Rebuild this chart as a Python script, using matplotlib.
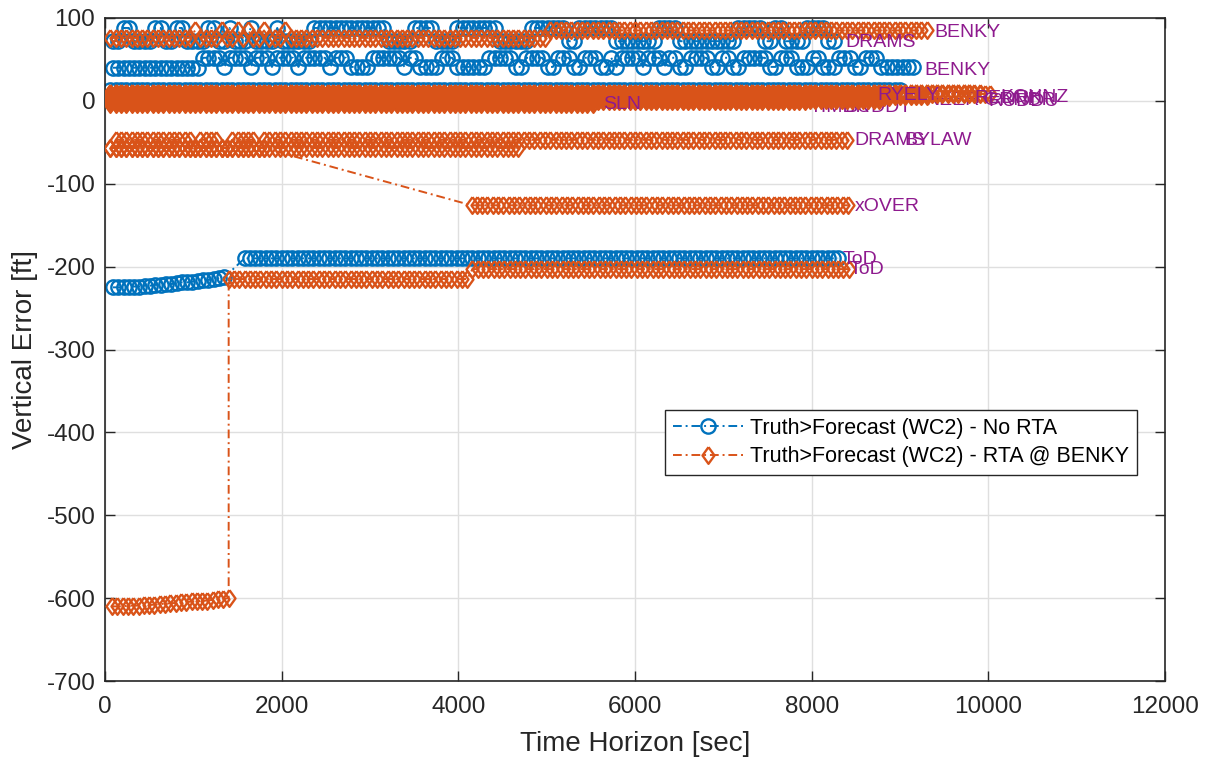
# -*- coding: utf-8 -*-
"""
Vertical error vs. time horizon, truth > forecast (WC2), with and without RTA.
"""

import numpy as np
import matplotlib.pyplot as plt

plt.rcParams['font.family'] = ['Liberation Sans', 'DejaVu Sans']
plt.rcParams['axes.unicode_minus'] = False

DT = 60  # time-horizon sample spacing [sec]

# ---------------- data ----------------
# a series is a list of pieces (start time, data)
# data is either runs [(end time, level), ...] or explicit values, one per DT

# No RTA (blue)
blue_top_runs = [(180, 72), (300, 88), (540, 72), (660, 88), (800, 72), (900, 88),
                 (1140, 72), (1240, 88), (1350, 72), (1440, 88), (1600, 72), (1700, 88),
                 (1900, 72), (2000, 88), (2320, 72), (3200, 88), (3450, 72), (3720, 88),
                 (3980, 72), (4420, 88), (4780, 72), (5200, 88), (5340, 72), (5740, 88),
                 (6220, 72), (6500, 88), (7120, 72), (7440, 88), (7540, 72), (7700, 88),
                 (7920, 72), (8140, 88), (8300, 72)]
blue_mid_runs = [(1100, 40), (1300, 52), (1380, 41), (1600, 52), (1680, 41), (1860, 52),
                 (1920, 41), (2130, 52), (2240, 41), (2500, 52), (2580, 41), (2740, 52),
                 (3020, 41), (3340, 52), (3420, 41), (3560, 52), (3790, 41), (3940, 52),
                 (4320, 41), (4620, 52), (4720, 41), (5000, 52), (5120, 41), (5250, 52),
                 (5400, 41), (5550, 52), (5700, 41), (5750, 52), (5830, 41), (6050, 52),
                 (6140, 41), (6280, 52), (6330, 41), (6500, 52), (6600, 41), (6850, 52),
                 (6950, 41), (7050, 52), (7180, 41), (7500, 52), (7620, 41), (7800, 52),
                 (7950, 41), (8100, 52), (8300, 41), (8450, 52), (8600, 41), (8780, 52),
                 (9200, 41)]
blue_band_runs = [(9000, 13)]
blue_tod_ramp = [-225, -225, -225, -224, -224, -224, -223, -223, -222, -222, -221,
                 -221, -220, -219, -219, -218, -217, -216, -216, -215, -214, -213]
blue_tod_runs = [(8300, -190)]

# RTA @ BENKY (orange)
orange_top_runs = [(1000, 76), (1040, 85), (1300, 76), (1340, 85), (1460, 76), (1500, 85),
                   (1600, 76), (1640, 85), (1760, 76), (1800, 85), (2020, 76), (2060, 85),
                   (5000, 76), (9350, 85)]
band_levels = [-3, 2, -4, 0, 3, 10, 7, 5, 9, 8, 1, 6]
band_ends = [2940, 6500, 5570, 7920, 8310, 9950, 8680, 8900, 9780, 10060, 8800, 9300]
orange_m57_runs = [(4700, -57)]
orange_m47_runs = [(1000, -47), (1060, -57), (1300, -47), (1400, -57), (1700, -47),
                   (1760, -57), (8420, -47)]
orange_xover_a = [(1800, -57)]
orange_xover_b = [(8420, -126)]
orange_tod_ramp = [-610, -610, -610, -609, -609, -609, -608, -608, -608, -607, -607, -606,
                   -606, -605, -605, -604, -604, -603, -603, -602, -601, -601, -600]
orange_tod_runs_a = [(4100, -215)]
orange_tod_runs_b = [(8440, -203)]

# waypoint labels: text, x, y, drawn below the markers?
label_text = ['DRAMS', 'BENKY', 'BENKY', 'ICT', 'SLN', 'TIMBR', 'BUDDT', 'RYELY', 'NEER',
              'REDRK', 'GRNDR', 'RUDDU', 'KOHNZ', 'DRAMS', 'BYLAW', 'xOVER', 'ToD', 'ToD']
label_x = [8380, 9390, 9280, 3000, 5640, 7980, 8370, 8740, 9290,
           9840, 9950, 10000, 10140, 8485, 9050, 8485, 8350, 8430]
label_y = [71, 83, 37, -4, -4, -8, -8, 7, 1,
           3, 1, -1, 4, -48, -48, -128, -191, -204]
label_hidden = [False, False, False, True, False, True, True, False, True,
                False, False, False, False, False, False, False, False, False]

no_rta = [[(90, blue_top_runs)],
          [(90, blue_mid_runs)],
          [(60, blue_band_runs)],
          [(90, blue_tod_ramp), (1580, blue_tod_runs)]]
rta = [[(60, orange_top_runs)]]
rta += [[(60, [(e, lv)])] for lv, e in zip(band_levels, band_ends)]
rta += [[(60, orange_m57_runs)],
        [(120, orange_m47_runs)],
        [(60, orange_xover_a), (4150, orange_xover_b)],
        [(80, orange_tod_ramp), (1400, orange_tod_runs_a), (4160, orange_tod_runs_b)]]


def build(pieces):
    t, y = [], []
    for t0, data in pieces:
        tt = t0
        if isinstance(data[0], tuple):
            for t_end, level in data:
                while tt <= t_end:
                    t.append(tt)
                    y.append(level)
                    tt += DT
        else:
            for v in data:
                t.append(tt)
                y.append(v)
                tt += DT
    return np.array(t), np.array(y)


# ---------------- plot ----------------
blue = '#0072BD'
orange = '#D95319'
purple = '#8E1A8E'
axcol = '#262626'
dashdot = (0, (4.5, 2, 1, 2))
diamond = [(0, 1), (0.72, 0), (0, -1), (-0.72, 0), (0, 1)]

fig = plt.figure(figsize=(12.07, 7.62), dpi=100)
ax = fig.add_axes([105/1207, 1 - 681/762, 1060/1207, 663/762])

for i, pieces in enumerate(no_rta):
    t, y = build(pieces)
    ax.plot(t, y, color=blue, ls=dashdot, lw=1.4, marker='o', ms=10.3, mew=1.7,
            mfc='none', zorder=2.5,
            label='Truth>Forecast (WC2) - No RTA' if i == 0 else None)
for i, pieces in enumerate(rta):
    t, y = build(pieces)
    ax.plot(t, y, color=orange, ls=dashdot, lw=1.4, marker=diamond, ms=12, mew=1.7,
            mfc='none', zorder=3,
            label='Truth>Forecast (WC2) - RTA @ BENKY' if i == 0 else None)

for s, x, y, hid in zip(label_text, label_x, label_y, label_hidden):
    ax.text(x, y, s, color=purple, fontsize=14, ha='left', va='center',
            zorder=2.2 if hid else 5)

ax.set_xlim(0, 12000)
ax.set_ylim(-700, 100)
ax.set_xticks(np.arange(0, 12001, 2000))
ax.set_yticks(np.arange(-700, 101, 100))
ax.grid(True, color='#dfdfdf', lw=1)
ax.set_axisbelow(True)
ax.tick_params(direction='in', length=7.5, width=1, colors=axcol, labelsize=17.5,
               top=True, right=True, labelcolor=axcol, pad=7)
ax.tick_params(axis='x', pad=11)
for sp in ax.spines.values():
    sp.set_color(axcol)
    sp.set_linewidth(1.2)
ax.set_xlabel('Time Horizon [sec]', fontsize=20, color=axcol, labelpad=9)
ax.set_ylabel('Vertical Error [ft]', fontsize=20, color=axcol, labelpad=6)

leg = ax.legend(loc='upper left', bbox_to_anchor=((665-105)/1060, (681-410)/663),
                borderaxespad=0, fancybox=False, framealpha=1, edgecolor=axcol,
                fontsize=15.5, handlelength=3.3, handletextpad=0.3, borderpad=0.35,
                labelspacing=0.35)
leg.get_frame().set_linewidth(1)
leg.set_zorder(10)

fig.savefig('out.png', dpi=100)
